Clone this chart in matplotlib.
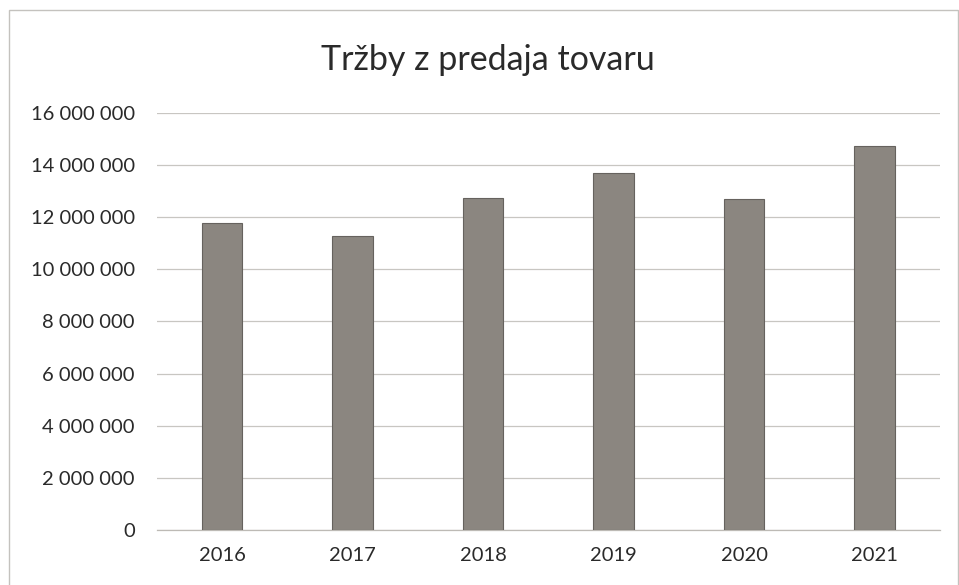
import matplotlib.pyplot as plt
from matplotlib.ticker import FuncFormatter, MultipleLocator
from matplotlib.patches import Rectangle

plt.rcParams['font.family'] = ['Lato', 'DejaVu Sans']

# údaje z grafu
roky = ['2016', '2017', '2018', '2019', '2020', '2021']
trzby = [11770000, 11260000, 12730000, 13680000, 12690000, 14720000]
nadpis = 'Tržby z predaja tovaru'

fig = plt.figure(figsize=(9.59, 5.85), dpi=100)
ax = fig.add_axes([0.1637, 0.094, 0.8163, 0.713])

ax.bar(range(len(roky)), trzby, width=0.31, color='#8b8680',
       edgecolor='#66625e', linewidth=0.8, zorder=3)

ax.set_xlim(-0.5, len(roky) - 0.5)
ax.set_ylim(0, 16000000)
ax.yaxis.set_major_locator(MultipleLocator(2000000))
ax.yaxis.set_major_formatter(FuncFormatter(lambda v, p: f'{int(v):,}'.replace(',', ' ')))
ax.set_xticks(range(len(roky)))
ax.set_xticklabels(roky)

ax.grid(axis='y', color='#c8c6c2', linewidth=0.9, zorder=0)
for s in ['top', 'right', 'left']:
    ax.spines[s].set_visible(False)
ax.spines['bottom'].set_color('#bdbab5')
ax.spines['bottom'].set_linewidth(0.9)
ax.tick_params(axis='both', length=0, labelsize=14.5, colors='#2a2a2a')
ax.tick_params(axis='y', pad=16)
ax.tick_params(axis='x', pad=12)

fig.text(0.509, 0.897, nadpis, ha='center', va='center', fontsize=24.5, color='#2a2a2a')

# rámček grafu
fig.patches.append(Rectangle((0.009, -0.01), 0.99, 0.993, transform=fig.transFigure,
                             fill=False, edgecolor='#c4c2be', linewidth=1.0))

plt.savefig('out.png', dpi=100)
